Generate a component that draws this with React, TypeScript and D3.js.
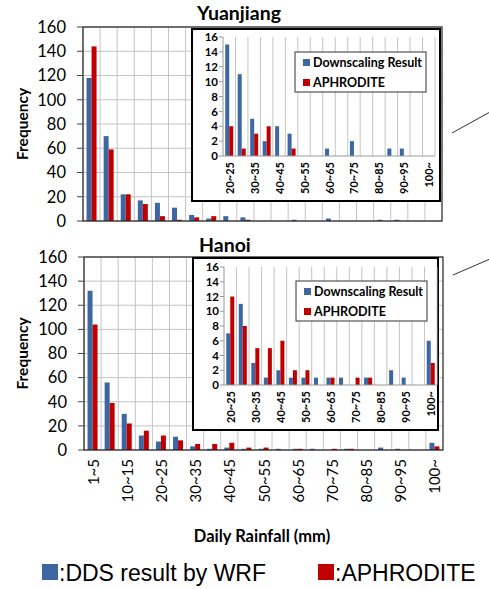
import * as d3 from "d3"

const categories = [
  "1~5", "5~10", "10~15", "15~20", "20~25", "25~30", "30~35", "35~40", "40~45", "45~50",
  "50~55", "55~60", "60~65", "65~70", "70~75", "75~80", "80~85", "85~90", "90~95", "95~100", "100~",
]
const yuanjiangDDS = [118, 70, 22, 17, 15, 11, 5, 2, 4, 3, 0, 0, 1, 0, 2, 0, 0, 1, 1, 0, 0]
const yuanjiangAPH = [144, 59, 22, 14, 4, 1, 3, 4, 0, 1, 0, 0, 0, 0, 0, 0, 0, 0, 0, 0, 0]
const hanoiDDS = [132, 56, 30, 12, 7, 11, 3, 1, 2, 1, 1, 1, 1, 1, 0, 1, 0, 2, 1, 0, 6]
const hanoiAPH = [104, 39, 22, 16, 12, 8, 5, 5, 6, 2, 2, 0, 1, 0, 1, 1, 0, 0, 0, 0, 3]
const mainTicks = [0, 20, 40, 60, 80, 100, 120, 140, 160]
const insetTicks = [0, 2, 4, 6, 8, 10, 12, 14, 16]
const insetStart = 4 // inset begins at 20~25

const BLUE = "#3c67a3"
const RED = "#c00000"
const GRID = "#c4c4c4"
const FONT = "Lato, 'Open Sans', sans-serif"

type Box = { x0: number; x1: number; y0: number; y1: number }

function Panel(props: {
  title: string
  titleX: number
  titleY: number
  dds: number[]
  aph: number[]
  plot: Box
  insetBox: Box
  insetPlot: Box
  showX: boolean
}) {
  const { title, titleX, titleY, dds, aph, plot, insetBox, insetPlot, showX } = props

  // main chart scales
  const x = d3.scaleBand().domain(categories).range([plot.x0, plot.x1]).padding(0)
  const xs = d3.scaleBand().domain(["dds", "aph"]).range([0, x.bandwidth()]).paddingInner(0).paddingOuter(0.71)
  const y = d3.scaleLinear().domain([0, 160]).range([plot.y1, plot.y0])

  // inset scales
  const insetCats = categories.slice(insetStart)
  const ix = d3.scaleBand().domain(insetCats).range([insetPlot.x0, insetPlot.x1]).padding(0)
  const ixs = d3.scaleBand().domain(["dds", "aph"]).range([0, ix.bandwidth()]).paddingInner(0).paddingOuter(0.56)
  const iy = d3.scaleLinear().domain([0, 16]).range([insetPlot.y1, insetPlot.y0])

  const series = [
    { key: "dds", values: dds, color: BLUE },
    { key: "aph", values: aph, color: RED },
  ]

  return (
    <g fontFamily={FONT}>
      <text x={titleX} y={titleY} fontWeight="bold" fontSize={19.5}>
        {title}
      </text>

      {/* horizontal gridlines */}
      {mainTicks.map((t) => (
        <line key={"h" + t} x1={plot.x0} x2={plot.x1} y1={y(t)} y2={y(t)} stroke={GRID} />
      ))}
      {/* vertical gridlines */}
      {categories.map((c) => (
        <line key={"v" + c} x1={x(c)!} x2={x(c)!} y1={plot.y0} y2={plot.y1} stroke={GRID} />
      ))}

      {series.map((s) =>
        s.values.map((v, i) => (
          <rect
            key={s.key + i}
            x={x(categories[i])! + xs(s.key)!}
            width={xs.bandwidth()}
            y={y(v)}
            height={y(0) - y(v)}
            fill={s.color}
          />
        )),
      )}

      <rect x={plot.x0} y={plot.y0} width={plot.x1 - plot.x0} height={plot.y1 - plot.y0} fill="none" stroke="#222" strokeWidth={1.2} />
      {mainTicks.map((t) => (
        <g key={"t" + t}>
          <line x1={plot.x0 - 6} x2={plot.x0} y1={y(t)} y2={y(t)} stroke="#444" />
          <text x={plot.x0 - 17} y={y(t)} dy="0.35em" textAnchor="end" fontSize={16.5}>
            {t}
          </text>
        </g>
      ))}
      <text
        transform={`translate(22,${(plot.y0 + plot.y1) / 2}) rotate(-90)`}
        textAnchor="middle"
        dominantBaseline="central"
        fontWeight="bold"
        fontSize={15.5}
      >
        Frequency
      </text>

      {showX &&
        categories.map((c, i) =>
          i % 2 === 0 ? (
            <text
              key={"xl" + c}
              transform={`translate(${x(c)! + x.bandwidth() / 2},${plot.y1 + 9}) rotate(-90)`}
              textAnchor="end"
              dominantBaseline="central"
              fontSize={15}
            >
              {c}
            </text>
          ) : null,
        )}

      {/* inset */}
      <rect
        x={insetBox.x0}
        y={insetBox.y0}
        width={insetBox.x1 - insetBox.x0}
        height={insetBox.y1 - insetBox.y0}
        fill="white"
        stroke="#000"
        strokeWidth={2}
      />
      {insetCats.map((c) => (
        <line key={"iv" + c} x1={ix(c)! + ix.bandwidth()} x2={ix(c)! + ix.bandwidth()} y1={insetPlot.y0} y2={insetPlot.y1} stroke={GRID} />
      ))}
      {series.map((s) =>
        s.values.slice(insetStart).map((v, i) => (
          <rect
            key={"i" + s.key + i}
            x={ix(insetCats[i])! + ixs(s.key)!}
            width={ixs.bandwidth()}
            y={iy(v)}
            height={iy(0) - iy(v)}
            fill={s.color}
          />
        )),
      )}
      <line x1={insetPlot.x0} x2={insetPlot.x0} y1={insetPlot.y0} y2={insetPlot.y1} stroke="#999" />
      <line x1={insetPlot.x0} x2={insetPlot.x1} y1={insetPlot.y1} y2={insetPlot.y1} stroke="#999" />
      {insetTicks.map((t) => (
        <g key={"it" + t}>
          <line x1={insetPlot.x0 - 4} x2={insetPlot.x0} y1={iy(t)} y2={iy(t)} stroke="#999" />
          <text x={insetPlot.x0 - 5} y={iy(t)} dy="0.36em" textAnchor="end" fontSize={11.5} fontWeight="bold">
            {t}
          </text>
        </g>
      ))}
      {insetCats.map((c, i) =>
        i % 2 === 0 ? (
          <text
            key={"ixl" + c}
            transform={`translate(${ix(c)! + ix.bandwidth() / 2},${insetPlot.y1 + 6}) rotate(-90)`}
            textAnchor="end"
            dominantBaseline="central"
            fontSize={11}
            fontWeight="bold"
          >
            {c}
          </text>
        ) : null,
      )}

      {/* inset legend */}
      <g transform={`translate(${insetBox.x0 + 103},${insetBox.y0 + 23})`}>
        <rect x={0} y={0} width={131} height={40} fill="white" stroke="#333" strokeWidth={1} />
        <rect x={8} y={7} width={7} height={7} fill={BLUE} />
        <text x={18} y={10.5} dy="0.36em" fontSize={12.5} fontWeight="bold">
          Downscaling Result
        </text>
        <rect x={8} y={27} width={7} height={7} fill={RED} />
        <text x={18} y={30.5} dy="0.36em" fontSize={12.5} fontWeight="bold">
          APHRODITE
        </text>
      </g>
    </g>
  )
}

export default function App() {
  return (
    <svg width={489} height={589} style={{ display: "block", position: "absolute", left: 0, top: 0 }}>
      <rect width={489} height={589} fill="white" />
      <Panel
        title="Yuanjiang"
        titleX={197}
        titleY={20}
        dds={yuanjiangDDS}
        aph={yuanjiangAPH}
        plot={{ x0: 83, x1: 442, y0: 27, y1: 221 }}
        insetBox={{ x0: 192, x1: 440, y0: 29, y1: 201 }}
        insetPlot={{ x0: 223, x1: 435, y0: 37, y1: 156 }}
        showX={false}
      />
      <Panel
        title="Hanoi"
        titleX={199}
        titleY={252}
        dds={hanoiDDS}
        aph={hanoiAPH}
        plot={{ x0: 84, x1: 443, y0: 257, y1: 450 }}
        insetBox={{ x0: 193, x1: 438, y0: 258, y1: 430 }}
        insetPlot={{ x0: 224, x1: 437, y0: 267, y1: 385 }}
        showX={true}
      />
      <line x1={452} y1={133} x2={490} y2={112} stroke="#333" />
      <line x1={453} y1={275} x2={490} y2={259} stroke="#333" />

      <text x={262} y={542} textAnchor="middle" fontFamily={FONT} fontWeight="bold" fontSize={16.5}>
        Daily Rainfall (mm)
      </text>
      <g fontFamily="'Liberation Sans', Arial, sans-serif" fontSize={23}>
        <rect x={42} y={564} width={16} height={16} fill={BLUE} />
        <text x={59} y={581}>:DDS result by WRF</text>
        <rect x={318} y={564} width={16} height={16} fill={RED} />
        <text x={335} y={581}>:APHRODITE</text>
      </g>
    </svg>
  )
}
